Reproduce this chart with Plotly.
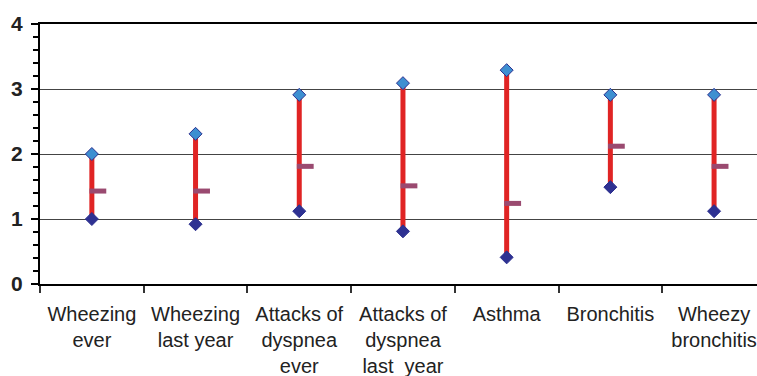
import plotly.graph_objects as go

categories = ["Wheezing<br>ever", "Wheezing<br>last year", "Attacks of<br>dyspnea<br>ever",
              "Attacks of<br>dyspnea<br>last  year", "Asthma", "Bronchitis", "Wheezy<br>bronchitis"]
high_vals = [2.0, 2.31, 2.91, 3.09, 3.29, 2.91, 2.91]
low_vals = [1.0, 0.92, 1.12, 0.81, 0.41, 1.49, 1.12]
mean_vals = [1.43, 1.43, 1.81, 1.51, 1.24, 2.12, 1.81]
y_ticks = [0, 1, 2, 3, 4]

n = len(categories)
xs = list(range(n))

# vertical range lines
lx, ly = [], []
for i in xs:
    lx += [i, i, None]
    ly += [low_vals[i], high_vals[i], None]

fig = go.Figure()
fig.add_trace(go.Scatter(x=lx, y=ly, mode="lines",
                         line=dict(color="#e02424", width=5), hoverinfo="skip"))
fig.add_trace(go.Scatter(x=[i + 0.058 for i in xs], y=mean_vals, mode="markers",
                         marker=dict(symbol="line-ew", size=12,
                                     line=dict(color="#9a4a70", width=5))))
fig.add_trace(go.Scatter(x=xs, y=high_vals, mode="markers",
                         marker=dict(symbol="diamond", size=10, color="#3d8fd1",
                                     line=dict(color="#2b2f8f", width=1))))
fig.add_trace(go.Scatter(x=xs, y=low_vals, mode="markers",
                         marker=dict(symbol="diamond", size=10, color="#2e3192",
                                     line=dict(color="#2b2f8f", width=1))))

fig.update_layout(
    width=757, height=376,
    margin=dict(l=40, r=0, t=24, b=92),
    paper_bgcolor="white", plot_bgcolor="white",
    showlegend=False,
    font=dict(family="Liberation Sans, Arial, sans-serif", color="#222222"),
)
fig.update_xaxes(
    range=[-0.5, 6.414], automargin=False,
    tickmode="array", tickvals=xs, ticktext=categories,
    ticks="", ticklen=0,
    tickfont=dict(size=20, color="#222222"),
    ticklabelstandoff=11,
    showgrid=False, zeroline=False,
    showline=True, linecolor="black", linewidth=2, mirror=True,
    minor=dict(tickmode="array", tickvals=[i + 0.5 for i in range(-1, n)],
               ticks="outside", ticklen=7, tickwidth=1.5, tickcolor="#333333",
               showgrid=False),
)
fig.update_yaxes(
    range=[0, 4], automargin=False,
    tickmode="array", tickvals=y_ticks,
    ticks="outside", ticklen=7, tickwidth=2, tickcolor="black",
    tickfont=dict(size=21, color="#222222", family="Liberation Sans, Arial, sans-serif", weight="bold"),
    ticklabelstandoff=4,
    showgrid=True, gridcolor="#444444", gridwidth=1.3,
    zeroline=False,
    showline=True, linecolor="black", linewidth=2,
    minor=dict(dtick=0.2, tick0=0, ticks="outside", ticklen=5, tickwidth=1.5,
               tickcolor="black", showgrid=False),
)

fig.write_html("out.html", config={"displayModeBar": False},
               post_script="document.body.style.margin='0';document.body.style.overflow='hidden';")
